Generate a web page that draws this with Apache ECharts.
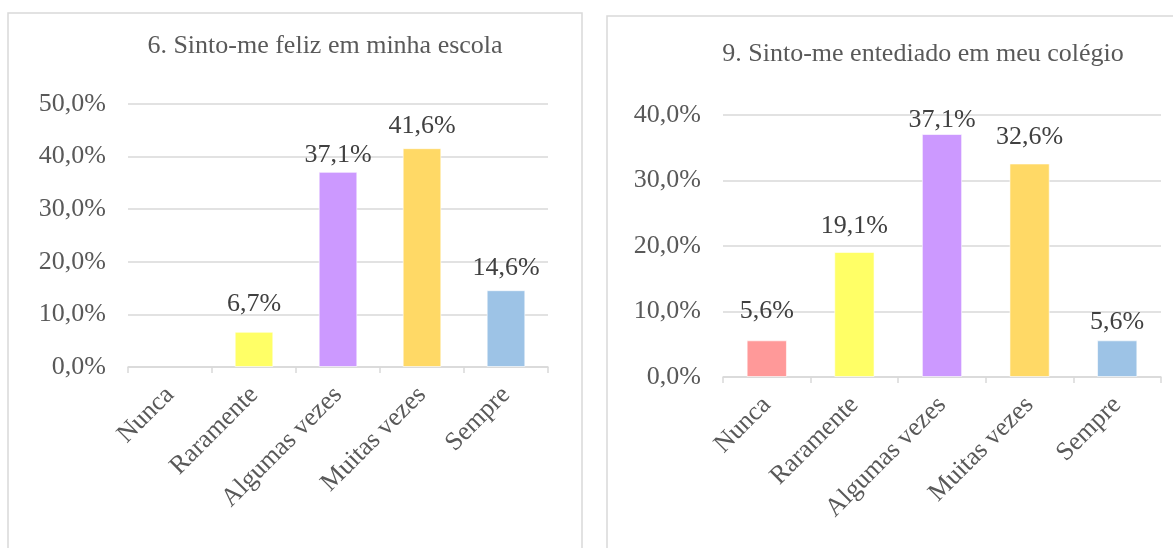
<!DOCTYPE html>
<html>
<head>
<meta charset="utf-8">
<script src="https://cdn.jsdelivr.net/npm/echarts@6/dist/echarts.min.js"></script>
<style>
html,body{margin:0;padding:0;background:#fff;}
#c{width:1173px;height:548px;}
</style>
</head>
<body>
<div id="c"></div>
<script>
const categories = ['Nunca', 'Raramente', 'Algumas vezes', 'Muitas vezes', 'Sempre'];
const colors = ['#FF9999', '#FFFF66', '#CC99FF', '#FFD966', '#9DC3E6'];

const title1 = '6. Sinto-me feliz em minha escola';
const values1 = [0, 6.7, 37.1, 41.6, 14.6];
const yTicks1 = [0, 10, 20, 30, 40, 50];

const title2 = '9. Sinto-me entediado em meu colégio';
const values2 = [5.6, 19.1, 37.1, 32.6, 5.6];
const yTicks2 = [0, 10, 20, 30, 40];

// label spacing above bars (style only)
const labelGap1 = [8, 15, 4, 9, 9];
const labelGap2 = [16, 13, 1, 13, 5];

const FONT = '"Liberation Serif", "Times New Roman", serif';
const fmt = v => v.toFixed(1).replace('.', ',') + '%';

function series(idx, vals, gaps) {
  return {
    type: 'bar',
    xAxisIndex: idx, yAxisIndex: idx,
    barWidth: '46%',
    data: vals.map((v, i) => ({
      value: v,
      itemStyle: { color: colors[i], borderColor: v > 0 ? 'rgba(255,255,255,0.6)' : 'rgba(0,0,0,0)', borderWidth: 1 },
      label: { show: v > 0, distance: gaps[i] }
    })),
    label: {
      position: 'top',
      fontFamily: FONT, fontSize: 26, color: '#404040',
      formatter: p => fmt(p.value)
    },
    silent: true
  };
}

function xAxis(idx) {
  return {
    type: 'category', gridIndex: idx, data: categories,
    axisLine: { lineStyle: { color: '#d9d9d9', width: 1.5 } },
    axisTick: { show: true, length: 6, lineStyle: { color: '#d9d9d9', width: 1.5 } },
    axisLabel: { rotate: 45, margin: 24, fontFamily: FONT, fontSize: 26, color: '#595959', interval: 0 }
  };
}

function yAxis(idx, ticks) {
  return {
    type: 'value', gridIndex: idx,
    min: ticks[0], max: ticks[ticks.length - 1], interval: ticks[1] - ticks[0],
    axisLine: { show: false }, axisTick: { show: false },
    splitLine: { lineStyle: { color: '#d9d9d9', width: 1.5 } },
    axisLabel: { fontFamily: FONT, fontSize: 26, color: '#595959', margin: 22, formatter: fmt }
  };
}

const chart = echarts.init(document.getElementById('c'), null, { renderer: 'canvas' });
chart.setOption({
  animation: false,
  backgroundColor: '#ffffff',
  graphic: [
    { type: 'rect', shape: { x: 8, y: 13, width: 574, height: 600 }, style: { fill: 'none', stroke: '#d9d9d9', lineWidth: 1.5 }, z: -10 },
    { type: 'rect', shape: { x: 607, y: 16, width: 700, height: 600 }, style: { fill: 'none', stroke: '#d9d9d9', lineWidth: 1.5 }, z: -10 }
  ],
  title: [
    { text: title1, left: 320, top: 28, textAlign: 'center', textStyle: { fontFamily: FONT, fontSize: 26, fontWeight: 'normal', color: '#595959' } },
    { text: title2, left: 918, top: 36, textAlign: 'center', textStyle: { fontFamily: FONT, fontSize: 26, fontWeight: 'normal', color: '#595959' } }
  ],
  grid: [
    { left: 128, right: 1173 - 548, top: 104, height: 263 },
    { left: 723, right: 1173 - 1161, top: 115, height: 262 }
  ],
  xAxis: [xAxis(0), xAxis(1)],
  yAxis: [yAxis(0, yTicks1), yAxis(1, yTicks2)],
  series: [series(0, values1, labelGap1), series(1, values2, labelGap2)]
});
</script>
</body>
</html>
